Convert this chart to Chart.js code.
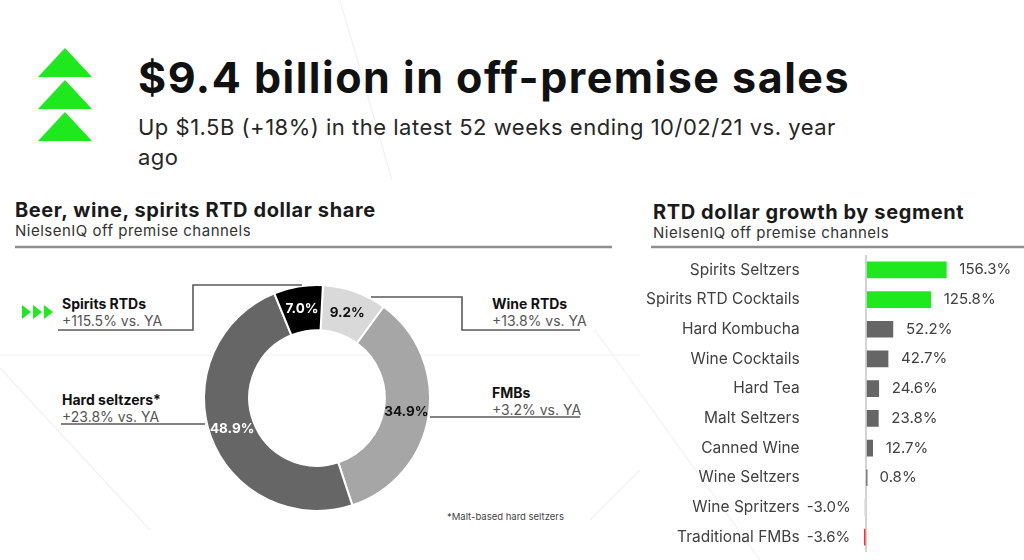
<!DOCTYPE html>
<html lang="en">
<head>
  <meta charset="UTF-8" />
  <title>RTD off-premise sales</title>
  <script src="https://cdn.jsdelivr.net/npm/chart.js"></script>
  <style>
    * { margin: 0; padding: 0; box-sizing: border-box; }
    body {
      width: 1024px; height: 560px; overflow: hidden;
      background: #fff; position: relative;
      font-family: Inter, "Open Sans", sans-serif; color: #1a1a1a;
    }
    .abs { position: absolute; white-space: nowrap; }
    #deco, #callouts { position: absolute; left: 0; top: 0; }
    #callouts { z-index: 3; pointer-events: none; }
    .headline { left: 138px; top: 51px; font-size: 43px; font-weight: 700; letter-spacing: 1.5px; color: #111; }
    .subline { left: 138px; top: 112px; font-size: 22px; line-height: 30px; letter-spacing: 0.5px; color: #262626; }
    .ptitle { font-size: 20px; font-weight: 700; letter-spacing: 0.6px; color: #1a1a1a; }
    .psub { font-size: 15px; letter-spacing: 0.5px; color: #333; }
    .call { font-size: 14px; line-height: 17px; color: #555; }
    .call b { color: #111; }
    .note { left: 447px; top: 511px; font-size: 9.5px; color: #444; }
    #donutWrap { position: absolute; left: 203px; top: 284px; width: 228px; height: 228px; z-index: 2; }
    #barWrap { position: absolute; left: 640px; top: 250px; width: 384px; height: 306px; }
  </style>
</head>
<body>
  <svg id="deco" width="1024" height="560">
    <g stroke="#f1f1f1" stroke-width="1.2" fill="none">
      <line x1="0" y1="355" x2="640" y2="355" />
      <line x1="0" y1="368" x2="150" y2="530" />
      <line x1="340" y1="0" x2="392" y2="180" />
      <line x1="595" y1="330" x2="760" y2="560" />
      <line x1="590" y1="520" x2="640" y2="470" />
    </g>
  </svg>

  <svg class="abs" style="left:38px;top:48px" width="54" height="94">
    <g fill="#1ee81e">
      <polygon points="0,29 27,0 54,29" />
      <polygon points="0,61 27,32 54,61" />
      <polygon points="0,93 27,64 54,93" />
    </g>
  </svg>

  <div class="abs headline">$9.4 billion in off-premise sales</div>
  <div class="abs subline">Up $1.5B (+18%) in the latest 52 weeks ending 10/02/21 vs. year<br>ago</div>

  <div class="abs ptitle" style="left:15px;top:198px">Beer, wine, spirits RTD dollar share</div>
  <div class="abs psub" style="left:15px;top:221px">NielsenIQ off premise channels</div>
  <div class="abs ptitle" style="left:653px;top:200px">RTD dollar growth by segment</div>
  <div class="abs psub" style="left:653px;top:223px">NielsenIQ off premise channels</div>

  <div class="abs call" style="left:62px;top:295px"><b>Spirits RTDs</b><br>+115.5% vs. YA</div>
  <div class="abs call" style="left:62px;top:391px"><b>Hard seltzers*</b><br>+23.8% vs. YA</div>
  <div class="abs call" style="left:492px;top:295px"><b>Wine RTDs</b><br>+13.8% vs. YA</div>
  <div class="abs call" style="left:492px;top:384px"><b>FMBs</b><br>+3.2% vs. YA</div>
  <div class="abs note">*Malt-based hard seltzers</div>

  <svg id="callouts" width="1024" height="560">
    <g stroke="#8f8f8f" stroke-width="2.5">
      <line x1="15" y1="247" x2="612" y2="247" />
      <line x1="651" y1="247" x2="1024" y2="247" />
    </g>
    <g stroke="#5a5a5a" stroke-width="1.6" fill="none">
      <polyline points="58,330 193,330 193,285 302,285" />
      <polyline points="371,297 462,297 462,330 580,330" />
      <polyline points="430,417 580,417" />
      <polyline points="61,424 205,424" />
    </g>
    <g fill="#1ee81e">
      <polygon points="22,305 31,312 22,319" />
      <polygon points="33,305 42,312 33,319" />
      <polygon points="44,305 53,312 44,319" />
    </g>
  </svg>

  <div id="donutWrap"><canvas id="donut"></canvas></div>
  <div id="barWrap"><canvas id="bars"></canvas></div>

  <script>
    // dollar share (clockwise from top)
    const shareLabels = ['Wine RTDs', 'FMBs', 'Hard seltzers', 'Spirits RTDs'];
    const shareValues = [9.2, 34.9, 48.9, 7.0];
    const shareColors = ['#d9d9d9', '#a6a6a6', '#666666', '#000000'];
    const shareTextColors = ['#111', '#111', '#fff', '#fff'];

    // RTD dollar growth by segment
    const segments = ['Spirits Seltzers', 'Spirits RTD Cocktails', 'Hard Kombucha', 'Wine Cocktails',
      'Hard Tea', 'Malt Seltzers', 'Canned Wine', 'Wine Seltzers', 'Wine Spritzers', 'Traditional FMBs'];
    const growth = [156.3, 125.8, 52.2, 42.7, 24.6, 23.8, 12.7, 0.8, -3.0, -3.6];
    const growthColors = ['#1ee81e', '#1ee81e', '#666666', '#666666', '#666666', '#666666',
      '#666666', '#666666', '#e0e0e0', '#ff2b2b'];

    const fmtPct = v => v.toFixed(1) + '%';
    const FONT = 'Inter, "Open Sans", sans-serif';

    const donutLabels = {
      id: 'donutLabels',
      afterDatasetsDraw(chart) {
        const { ctx } = chart;
        const meta = chart.getDatasetMeta(0);
        ctx.save();
        ctx.font = 'bold 13.5px ' + FONT;
        ctx.textAlign = 'center';
        ctx.textBaseline = 'middle';
        meta.data.forEach((arc, i) => {
          const p = arc.tooltipPosition();
          ctx.fillStyle = shareTextColors[i];
          ctx.fillText(fmtPct(shareValues[i]), p.x, p.y);
        });
        ctx.restore();
      }
    };

    new Chart(document.getElementById('donut'), {
      type: 'doughnut',
      data: {
        labels: shareLabels,
        datasets: [{ data: shareValues, backgroundColor: shareColors, borderColor: '#fff', borderWidth: 2 }]
      },
      options: {
        responsive: true, maintainAspectRatio: false, animation: false,
        cutout: '60%', rotation: 3,
        plugins: { legend: { display: false }, tooltip: { enabled: false } }
      },
      plugins: [donutLabels]
    });

    const barValues = {
      id: 'barValues',
      afterDatasetsDraw(chart) {
        const { ctx } = chart;
        const meta = chart.getDatasetMeta(0);
        ctx.save();
        ctx.font = '15px ' + FONT;
        ctx.fillStyle = '#404040';
        ctx.textBaseline = 'middle';
        meta.data.forEach((bar, i) => {
          const v = growth[i];
          ctx.textAlign = v < 0 ? 'right' : 'left';
          ctx.fillText(fmtPct(v), bar.x + (v < 0 ? -14 : 13), bar.y);
        });
        ctx.restore();
      }
    };

    // no extra label padding from the axes, so rows fill the box exactly
    const noPad = s => { s.paddingTop = 0; s.paddingBottom = 0; s.paddingLeft = 0; s.paddingRight = 0; };

    new Chart(document.getElementById('bars'), {
      type: 'bar',
      data: {
        labels: segments,
        datasets: [{ data: growth, backgroundColor: growthColors, barThickness: 16 }]
      },
      options: {
        indexAxis: 'y',
        responsive: true, maintainAspectRatio: false, animation: false,
        layout: { padding: { top: 5, bottom: 4, right: 4 } },
        scales: {
          x: {
            min: -120, max: 300,
            afterFit: s => { s.height = 0; noPad(s); },
            ticks: { display: false, stepSize: 30 },
            border: { display: false },
            grid: {
              drawTicks: false,
              lineWidth: 2,
              color: c => c.tick && c.tick.value === 0 ? '#d4d4d4' : 'transparent'
            }
          },
          y: {
            afterFit: s => { s.width = 164.6; noPad(s); },
            border: { display: false },
            grid: { display: false, drawTicks: false },
            ticks: { padding: 5, color: '#404040', font: { size: 15.5, family: FONT } }
          }
        },
        plugins: { legend: { display: false }, tooltip: { enabled: false } }
      },
      plugins: [barValues]
    });
  </script>
</body>
</html>
